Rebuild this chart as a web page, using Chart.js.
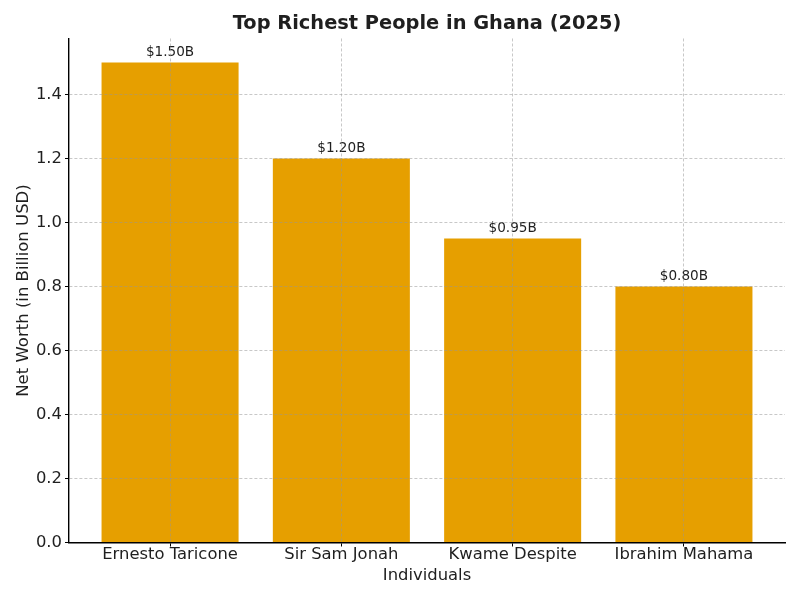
<!DOCTYPE html>
<html>
<head>
<meta charset="utf-8">
<style>html,body{margin:0;padding:0;background:#fff}canvas{display:block}</style>
<script src="https://cdn.jsdelivr.net/npm/chart.js@4"></script>
</head>
<body>
<canvas id="c" width="800" height="600" style="width:800px;height:600px"></canvas>
<script>
const categories = ["Ernesto Taricone", "Sir Sam Jonah", "Kwame Despite", "Ibrahim Mahama"];
const netWorth = [1.5, 1.2, 0.95, 0.8];
const valueLabels = ["$1.50B", "$1.20B", "$0.95B", "$0.80B"];
const yTicks = [0, 0.2, 0.4, 0.6, 0.8, 1.0, 1.2, 1.4];
const FONT = "'DejaVu Sans'";
const INK = "#1f1f1f";

const layoutTweaks = {
  id: "layoutTweaks",
  afterLayout(chart) {
    chart.titleBlock.left = chart.chartArea.left;
    chart.titleBlock.right = chart.chartArea.right;
  },
  afterDatasetsDraw(chart) {
    const ctx = chart.ctx;
    const meta = chart.getDatasetMeta(0);
    ctx.save();
    ctx.font = "13.6px " + FONT;
    ctx.fillStyle = INK;
    ctx.textAlign = "center";
    ctx.textBaseline = "bottom";
    meta.data.forEach((bar, i) => ctx.fillText(valueLabels[i], bar.x, bar.y - 3));
    ctx.restore();
  }
};

new Chart(document.getElementById("c"), {
  type: "bar",
  data: {
    datasets: [{
      data: netWorth.map((v, i) => ({ x: i, y: v })),
      backgroundColor: "#E69F00",
      borderWidth: 0,
      barPercentage: 1,
      categoryPercentage: 0.8
    }]
  },
  plugins: [layoutTweaks],
  options: {
    responsive: false,
    animation: false,
    layout: { padding: { top: 0, right: 15, bottom: 0, left: 0 } },
    plugins: {
      legend: { display: false },
      tooltip: { enabled: false },
      title: {
        display: true,
        text: "Top Richest People in Ghana (2025)",
        color: INK,
        font: { family: FONT, size: 19.4, weight: "bold" },
        padding: { top: 12, bottom: 3.2 }
      }
    },
    scales: {
      x: {
        type: "linear",
        offset: false,
        min: -0.59,
        max: 3.59,
        afterBuildTicks(s) { s.ticks = categories.map((_, i) => ({ value: i })); },
        afterFit(s) { s.height = 57.5; },
        ticks: {
          autoSkip: false,
          maxRotation: 0,
          color: INK,
          padding: -1.5,
          font: { family: FONT, size: 16.4 },
          callback: (v) => categories[v]
        },
        grid: { offset: false, color: "rgba(150,150,150,0.52)", z: 1, tickColor: "#000", tickLength: 4, tickBorderDash: [] },
        border: { display: true, color: "#000", width: 1.4, dash: [3, 2], z: 2 },
        title: {
          display: true,
          text: "Individuals",
          color: INK,
          font: { family: FONT, size: 16.4 },
          padding: { top: 2, bottom: 14 }
        }
      },
      y: {
        min: 0,
        max: 1.575,
        afterBuildTicks(s) { s.ticks = yTicks.map(v => ({ value: v })); },
        afterFit(s) { s.width = 69; },
        ticks: {
          color: INK,
          padding: 3,
          font: { family: FONT, size: 16.4 },
          callback: (v) => v.toFixed(1)
        },
        grid: { color: "rgba(150,150,150,0.52)", z: 1, tickColor: "#000", tickLength: 4, tickBorderDash: [] },
        border: { display: true, color: "#000", width: 1.4, dash: [3, 2], z: 2 },
        title: {
          display: true,
          text: "Net Worth (in Billion USD)",
          color: INK,
          font: { family: FONT, size: 16.5 },
          padding: { top: 14, bottom: 0 }
        }
      }
    }
  }
});
</script>
</body>
</html>
